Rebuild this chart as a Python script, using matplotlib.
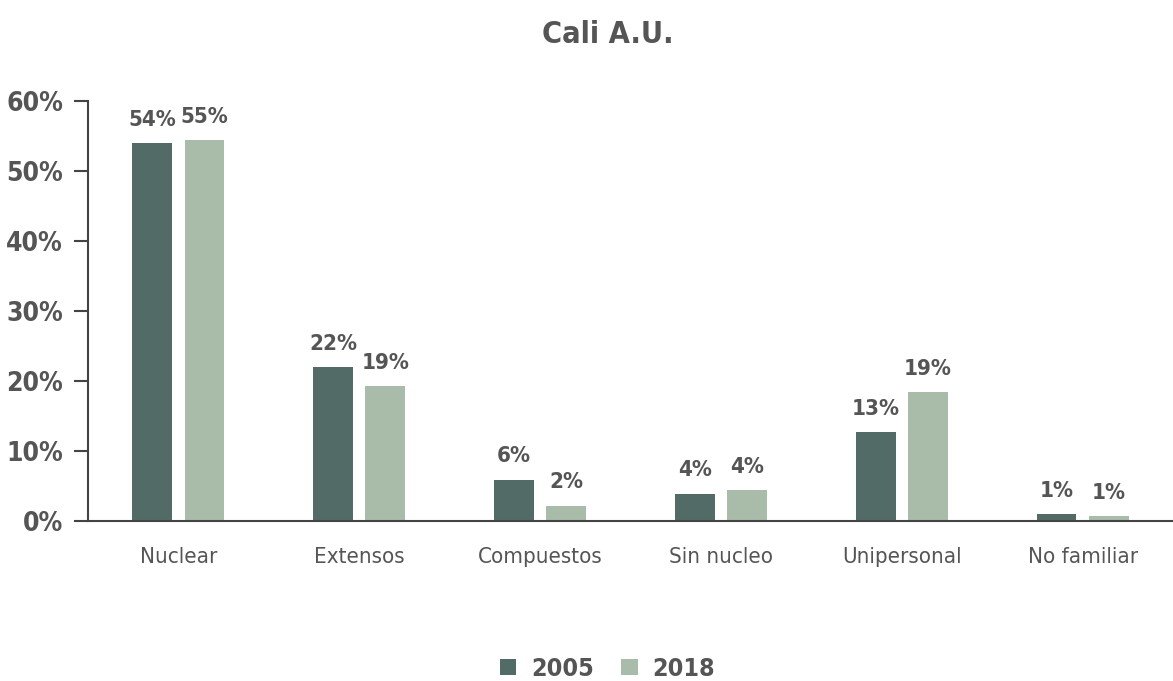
import matplotlib.pyplot as plt
import numpy as np

plt.rcParams['font.family'] = ['DejaVu Sans']
plt.rcParams['font.stretch'] = 'condensed'

categorias = ['Nuclear', 'Extensos', 'Compuestos', 'Sin nucleo', 'Unipersonal', 'No familiar']
v2005 = [54.0, 22.0, 5.9, 3.9, 12.7, 1.0]
v2018 = [54.4, 19.3, 2.2, 4.4, 18.4, 0.7]
et2005 = ['54%', '22%', '6%', '4%', '13%', '1%']
et2018 = ['55%', '19%', '2%', '4%', '19%', '1%']
yticks = [0, 10, 20, 30, 40, 50, 60]

gris = '#555555'
c1 = '#536b66'
c2 = '#a9bca9'

fig = plt.figure(figsize=(11.73, 6.81), dpi=100)
ax = fig.add_axes([0.075, 0.235, 0.925, 0.617])

x = np.arange(len(categorias))
w = 0.22
off = 0.144
b1 = ax.bar(x - off, v2005, w, color=c1, label='2005')
b2 = ax.bar(x + off, v2018, w, color=c2, label='2018')

for bars, ets in [(b1, et2005), (b2, et2018)]:
    for b, t in zip(bars, ets):
        ax.text(b.get_x() + b.get_width() / 2, b.get_height() + 1.9, t,
                ha='center', va='bottom', fontsize=16, fontweight='bold', color=gris)

ax.set_xlim(-0.5, len(categorias) - 0.5)
ax.set_ylim(0, 60)
ax.set_yticks(yticks)
ax.set_yticklabels([f'{v}%' for v in yticks], fontsize=19, fontweight='bold', color=gris)
ax.set_xticks(x)
ax.set_xticklabels(categorias, fontsize=16, color=gris)
ax.tick_params(axis='x', length=0, pad=19)
ax.tick_params(axis='y', length=10, width=1.5, color='#444444', pad=8)
for s in ['top', 'right']:
    ax.spines[s].set_visible(False)
for s in ['left', 'bottom']:
    ax.spines[s].set_color('#444444')
    ax.spines[s].set_linewidth(1.5)

fig.text(0.518, 0.95, 'Cali A.U.', ha='center', va='center', fontsize=22,
         fontweight='bold', color=gris)

fig.legend(handles=[b1, b2], loc='center', bbox_to_anchor=(0.518, 0.018),
           ncol=2, frameon=False, handlelength=0.65, handleheight=0.65,
           handletextpad=0.6, columnspacing=1.1,
           prop={'size': 18, 'weight': 'bold'}, labelcolor=gris)

fig.savefig('out.png', dpi=100)
